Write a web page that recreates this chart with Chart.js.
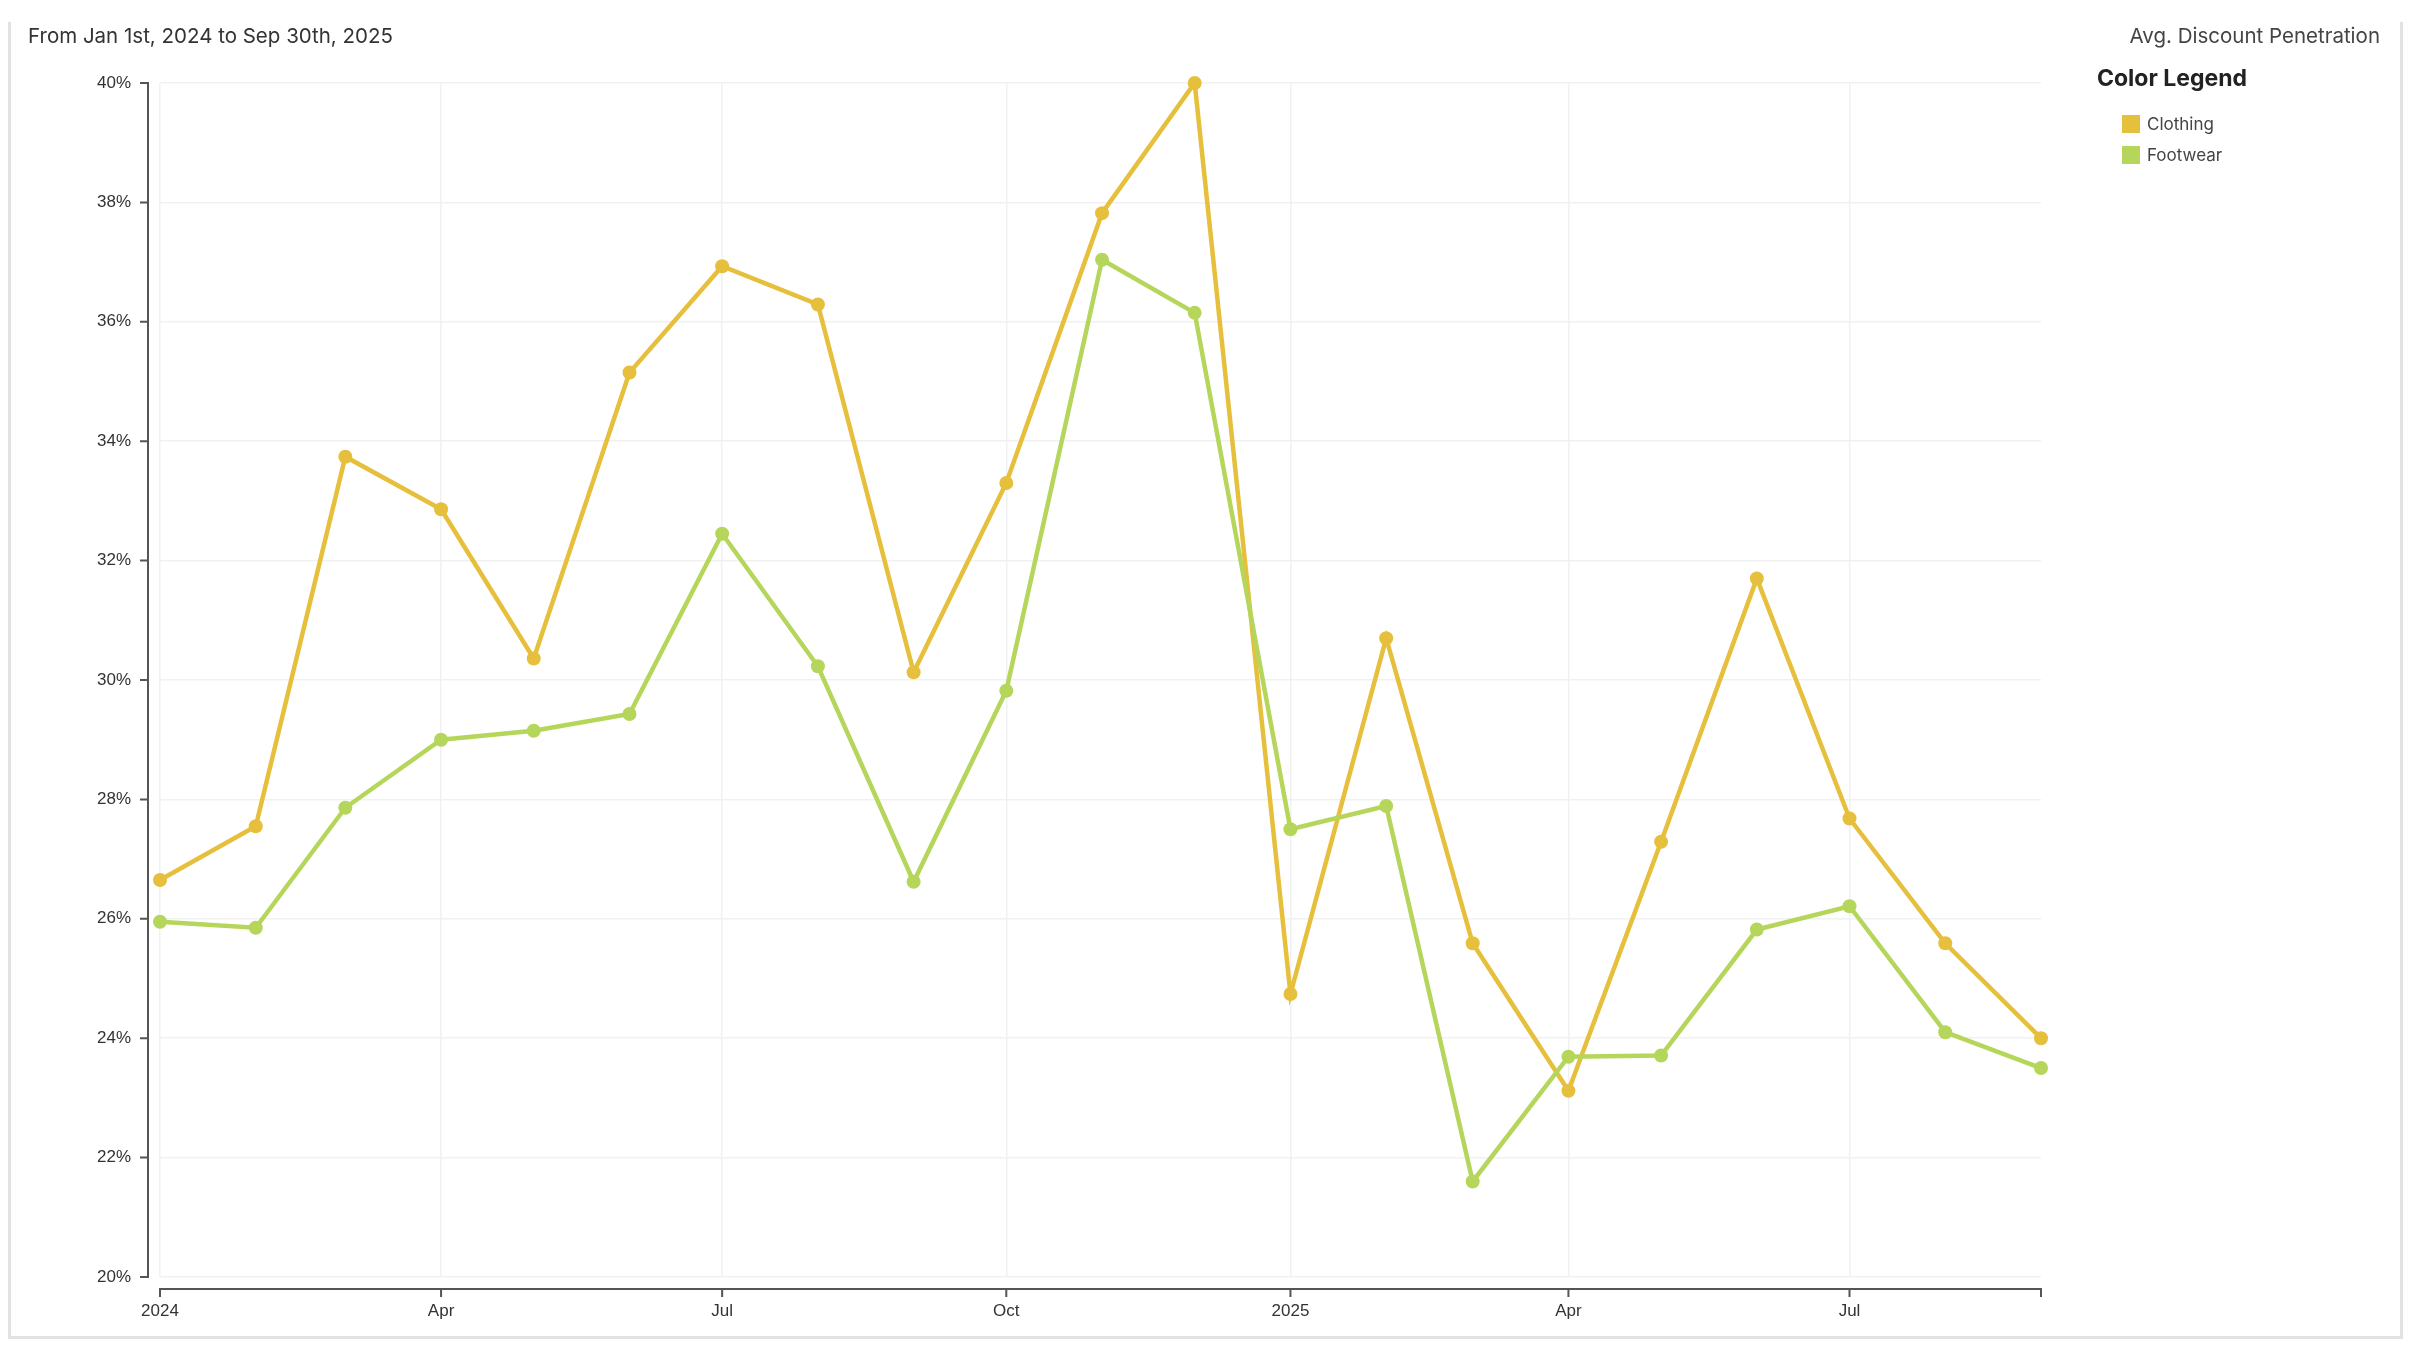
<!DOCTYPE html>
<html>
<head>
<meta charset="utf-8">
<script src="https://cdn.jsdelivr.net/npm/chart.js@4.4.1/dist/chart.umd.min.js"></script>
<style>
    html, body { margin: 0; padding: 0; background: #fff; }
    body { width: 2412px; height: 1348px; position: relative; overflow: hidden; font-family: Inter, "Noto Sans", sans-serif; }
    .card { position: absolute; left: 8px; top: 22px; width: 2389px; height: 1314px;
            border: 3px solid #e2e2e2; border-top: none; }
    .chart-wrap { position: absolute; left: 0; top: 0; width: 2412px; height: 1348px; }
    .title-left { position: absolute; left: 28px; top: 23px; font-size: 20.5px; color: #333; }
    .title-right { position: absolute; right: 32px; top: 23px; font-size: 20.5px; color: #444; }
    .legend { position: absolute; left: 2097px; top: 64px; }
    .legend h3 { margin: 0 0 16px 0; font-size: 23px; font-weight: 700; color: #222; }
    .legend .item { display: flex; align-items: center; height: 31px; margin-left: 25px; font-size: 17px; color: #444; }
    .legend .swatch { width: 18px; height: 18px; margin-right: 7px; }
</style>
</head>
<body>
<div class="card"></div>
<div class="chart-wrap"><canvas id="discount-chart"></canvas></div>
<div class="title-left">From Jan 1st, 2024 to Sep 30th, 2025</div>
<div class="title-right">Avg. Discount Penetration</div>
<div class="legend" id="legend"><h3>Color Legend</h3></div>

<script>
    "use strict";

    /** Data */
    var months = ['2024-01', '2024-02', '2024-03', '2024-04', '2024-05', '2024-06', '2024-07',
                  '2024-08', '2024-09', '2024-10', '2024-11', '2024-12', '2025-01', '2025-02',
                  '2025-03', '2025-04', '2025-05', '2025-06', '2025-07', '2025-08', '2025-09'];
    var clothing = [26.65, 27.55, 33.74, 32.86, 30.36, 35.15, 36.93, 36.29, 30.13, 33.30, 37.82,
                    40.00, 24.74, 30.70, 25.59, 23.12, 27.29, 31.70, 27.68, 25.59, 24.00];
    var footwear = [25.95, 25.85, 27.86, 29.00, 29.15, 29.43, 32.45, 30.23, 26.62, 29.82, 37.04,
                    36.15, 27.50, 27.89, 21.60, 23.69, 23.71, 25.82, 26.21, 24.10, 23.50];
    var xTickMonths = ['2024-01', '2024-04', '2024-07', '2024-10', '2025-01', '2025-04', '2025-07'];
    var xTickLabels = ['2024', 'Apr', 'Jul', 'Oct', '2025', 'Apr', 'Jul'];
    var yTicks = [20, 22, 24, 26, 28, 30, 32, 34, 36, 38, 40];

    var seriesNames = ['Clothing', 'Footwear'];
    var seriesColors = ['#e6bf3c', '#b5d65b'];

    function toTime(m) {
        var p = m.split('-');
        return Date.UTC(+p[0], +p[1] - 1, 1);
    }

    function points(values) {
        return months.map(function (m, i) { return { x: toTime(m), y: values[i] }; });
    }

    /** Legend */
    var legend = document.getElementById('legend');
    seriesNames.forEach(function (name, i) {
        var item = document.createElement('div');
        item.className = 'item';
        item.innerHTML = '<span class="swatch" style="background:' + seriesColors[i] + '"></span>' + name;
        legend.appendChild(item);
    });

    /** Offset axis lines, d3 style */
    var GAP = 12, TICK = 8, AXIS_COLOR = '#555';
    var offsetAxes = {
        id: 'offsetAxes',
        afterDraw: function (chart) {
            var c = chart.ctx, a = chart.chartArea;
            var xs = chart.scales.x, ys = chart.scales.y;
            c.save();
            c.strokeStyle = AXIS_COLOR;
            c.lineWidth = 2;

            var ax = a.left - GAP;
            c.beginPath();
            c.moveTo(ax - TICK, a.top); c.lineTo(ax, a.top);
            c.lineTo(ax, a.bottom); c.lineTo(ax - TICK, a.bottom);
            ys.ticks.forEach(function (t) {
                var py = ys.getPixelForValue(t.value);
                c.moveTo(ax - TICK, py); c.lineTo(ax, py);
            });
            c.stroke();

            var ay = a.bottom + GAP;
            c.beginPath();
            c.moveTo(a.left, ay + TICK); c.lineTo(a.left, ay);
            c.lineTo(a.right, ay); c.lineTo(a.right, ay + TICK);
            xs.ticks.forEach(function (t) {
                var px = xs.getPixelForValue(t.value);
                c.moveTo(px, ay); c.lineTo(px, ay + TICK);
            });
            c.stroke();
            c.restore();
        }
    };

    var tickFont = { family: '"Liberation Sans", Arial, sans-serif', size: 17 };

    var ctx = document.getElementById('discount-chart').getContext('2d');
    var discountChart = new Chart(ctx, {
        type: 'line',
        data: {
            datasets: seriesNames.map(function (name, i) {
                return {
                    label: name,
                    data: points(i === 0 ? clothing : footwear),
                    borderColor: seriesColors[i],
                    backgroundColor: seriesColors[i],
                    borderWidth: 4.5,
                    pointRadius: 7,
                    pointHoverRadius: 7,
                    pointBorderWidth: 0,
                    tension: 0,
                    clip: false
                };
            }).reverse()
        },
        options: {
            responsive: true,
            maintainAspectRatio: false,
            animation: false,
            events: [],
            layout: { padding: { left: 20, top: 83, right: 371, bottom: 21 } },
            plugins: { legend: { display: false }, tooltip: { enabled: false } },
            scales: {
                x: {
                    type: 'linear',
                    min: toTime(months[0]),
                    max: toTime(months[months.length - 1]),
                    afterBuildTicks: function (scale) {
                        scale.ticks = xTickMonths.map(function (m) { return { value: toTime(m) }; });
                    },
                    afterFit: function (scale) { scale.height = 50; },
                    border: { display: false },
                    grid: { color: '#f1f1f1', lineWidth: 1.5, tickLength: 20, tickColor: 'rgba(0,0,0,0)' },
                    ticks: {
                        padding: 4,
                        color: '#333',
                        font: tickFont,
                        maxRotation: 0,
                        autoSkip: false,
                        callback: function (v, i) { return xTickLabels[i]; }
                    }
                },
                y: {
                    min: 20,
                    max: 40,
                    afterBuildTicks: function (scale) {
                        scale.ticks = yTicks.map(function (v) { return { value: v }; });
                    },
                    afterFit: function (scale) { scale.width = 140; },
                    border: { display: false },
                    grid: { color: '#f1f1f1', lineWidth: 1.5, tickLength: 20, tickColor: 'rgba(0,0,0,0)' },
                    ticks: {
                        padding: 9,
                        color: '#333',
                        font: tickFont,
                        callback: function (v) { return v + '%'; }
                    }
                }
            }
        },
        plugins: [offsetAxes]
    });
</script>
</body>
</html>
